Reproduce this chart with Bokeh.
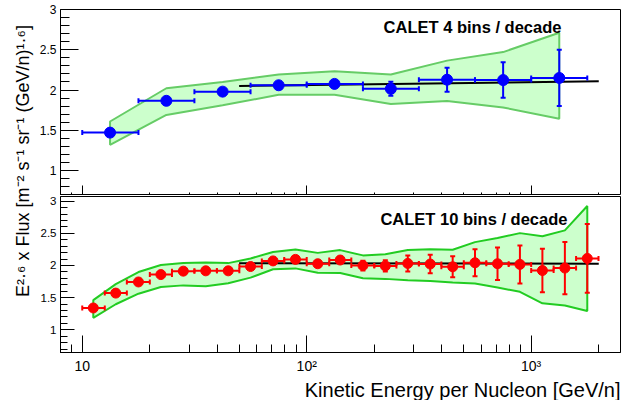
import math
from bokeh.plotting import figure
from bokeh.layouts import column, row
from bokeh.models import (ColumnDataSource, Whisker, TeeHead, Label, FixedTicker, Range1d, Title)
from bokeh.embed import file_html
from bokeh.resources import INLINE

FONT = "Liberation Sans"

# ---------------- data ----------------
x_limits = [8, 2500]
top_limits = [0.69, 3.0]
bot_limits = [0.648, 3.072]

# 4 bins / decade
top_energy = [13.3, 23.7, 42.2, 75.0, 133, 237, 422, 750, 1334]
top_lo = [10, 17.8, 31.6, 56.2, 100, 178, 316, 562, 1000]
top_hi = [17.8, 31.6, 56.2, 100, 178, 316, 562, 1000, 1778]
top_flux = [1.471, 1.866, 1.980, 2.059, 2.076, 2.015, 2.128, 2.124, 2.150]
top_err = [0.015, 0.015, 0.02, 0.025, 0.035, 0.087, 0.15, 0.22, 0.35]
top_band_hi = [1.609, 2.022, 2.100, 2.193, 2.234, 2.193, 2.365, 2.471, 2.712]
top_band_lo = [1.319, 1.691, 1.810, 1.940, 1.940, 1.826, 1.863, 1.784, 1.642]

# 10 bins / decade
bot_energy = [11.2, 14.1, 17.8, 22.4, 28.2, 35.5, 44.7, 56.2, 70.8, 89.1, 112, 141,
              178, 224, 282, 355, 447, 562, 708, 891, 1122, 1413, 1778]
bot_edges = [10, 12.6, 15.8, 20, 25.1, 31.6, 39.8, 50.1, 63.1, 79.4, 100, 126, 158,
             200, 251, 316, 398, 501, 631, 794, 1000, 1259, 1585, 1995]
bot_flux = [1.340, 1.571, 1.744, 1.859, 1.912, 1.917, 1.917, 1.984, 2.071, 2.095, 2.027,
            2.085, 1.999, 1.994, 2.032, 2.023, 1.980, 2.042, 2.027, 2.017, 1.922, 1.960, 2.110]
bot_err = [0.02, 0.02, 0.02, 0.02, 0.02, 0.02, 0.02, 0.025, 0.03, 0.03, 0.035, 0.045,
           0.075, 0.087, 0.125, 0.145, 0.163, 0.21, 0.252, 0.295, 0.339, 0.406, 0.533]
bot_band_hi = [1.461, 1.710, 1.898, 2.008, 2.037, 2.046, 2.037, 2.109, 2.210, 2.250, 2.196,
               2.239, 2.157, 2.176, 2.239, 2.253, 2.244, 2.363, 2.426, 2.503, 2.455, 2.546, 2.925]
bot_band_lo = [1.187, 1.398, 1.562, 1.667, 1.691, 1.677, 1.725, 1.811, 1.941, 1.955, 1.888,
               1.883, 1.801, 1.792, 1.772, 1.758, 1.735, 1.720, 1.657, 1.591, 1.412, 1.379, 1.292]

# fitted lines (values read at the ends)
fit_energy = [50, 2000]
top_fit = [2.050, 2.108]
bot_fit = [2.036, 2.028]

x_major = [10, 100, 1000]
x_labels = {10: "10", 100: "10²", 1000: "10³"}
y_major = [1, 1.5, 2, 2.5, 3]
y_labels = {1: "1", 1.5: "1.5", 2: "2", 2.5: "2.5", 3: "3"}

titles = ["CALET 4 bins / decade", "CALET 10 bins / decade"]
ylab = "E²·⁶ x Flux  [m⁻² s⁻¹ sr⁻¹ (GeV/n)¹·⁶]"
xlab = "Kinetic Energy per Nucleon [GeV/n]"

# ---------------- helpers ----------------
x_minor = [m * 10 ** k for k in range(0, 4) for m in range(2, 10)
           if x_limits[0] <= m * 10 ** k <= x_limits[1] and m * 10 ** k not in x_major]
y_minor = [round(0.1 * i, 1) for i in range(6, 32) if round(0.1 * i, 1) not in y_major]

LAB_W = 36
W = 621 - LAB_W
H = 400


def make_panel(height, ylim, b_top, b_bot, ymaj, ymin, xmaj, xmin, ylab_size, show_x):
    p = figure(width=W, height=height, x_axis_type="log",
               x_range=Range1d(*x_limits), y_range=Range1d(*ylim),
               output_backend="svg", toolbar_location=None,
               min_border_left=57 - LAB_W, min_border_right=1,
               min_border_top=b_top, min_border_bottom=b_bot)
    p.grid.visible = False
    p.background_fill_color = "white"
    p.border_fill_color = "white"
    p.outline_line_color = "black"
    p.outline_line_width = 1

    xa = p.xaxis[0]
    xa.ticker = FixedTicker(ticks=x_major, minor_ticks=x_minor)
    xa.major_tick_in = xmaj
    xa.major_tick_out = 0
    xa.minor_tick_in = xmin
    xa.minor_tick_out = 0
    xa.axis_line_color = "black"
    xa.major_tick_line_color = "black"
    xa.minor_tick_line_color = "black"
    if show_x:
        xa.major_label_overrides = x_labels
        xa.major_label_text_font = FONT
        xa.major_label_text_font_size = "14px"
        xa.major_label_text_color = "black"
        xa.major_label_standoff = 5
    else:
        xa.major_label_overrides = {t: "" for t in x_major}
        xa.major_label_text_font_size = "0px"
        xa.major_label_standoff = 0

    ya = p.yaxis[0]
    ya.ticker = FixedTicker(ticks=y_major, minor_ticks=y_minor)
    ya.major_label_overrides = y_labels
    ya.major_tick_in = ymaj
    ya.major_tick_out = 0
    ya.minor_tick_in = ymin
    ya.minor_tick_out = 0
    ya.axis_line_color = "black"
    ya.major_tick_line_color = "black"
    ya.minor_tick_line_color = "black"
    ya.major_label_text_font = FONT
    ya.major_label_text_font_size = ylab_size
    ya.major_label_text_color = "black"
    ya.major_label_standoff = 4
    return p


def draw(p, energy, lo, hi, flux, err, band_hi, band_lo, fit, color, band_line, size):
    p.patch(x=list(energy) + list(energy[::-1]), y=list(band_hi) + list(band_lo[::-1]),
            fill_color="#ccffcc", line_color=band_line, line_width=2, level="image")
    p.line(fit_energy, fit, line_color="black", line_width=2, level="image")
    src = ColumnDataSource(dict(
        e=energy, y=flux, lo=lo, hi=hi,
        ylo=[f - d for f, d in zip(flux, err)],
        yhi=[f + d for f, d in zip(flux, err)],
    ))
    for dim, base, lower, upper in (("height", "e", "ylo", "yhi"), ("width", "y", "lo", "hi")):
        w = Whisker(source=src, base=base, lower=lower, upper=upper, dimension=dim,
                    line_color=color, line_width=2, level="underlay",
                    upper_head=TeeHead(size=5, line_color=color, line_width=2),
                    lower_head=TeeHead(size=5, line_color=color, line_width=2))
        p.add_layout(w)
    p.scatter(x="e", y="y", source=src, size=size, fill_color=color, line_color=color)


# ---------------- y-axis title strip ----------------
lab = figure(width=LAB_W, height=H, x_range=Range1d(0, 1), y_range=Range1d(0, 1),
             output_backend="svg", toolbar_location=None,
             x_axis_location=None, y_axis_location=None, min_border=0)
lab.grid.visible = False
lab.outline_line_color = None
lab.background_fill_color = "white"
lab.border_fill_color = "white"
lab.add_layout(Label(x=22, y=H - 158, x_units="screen", y_units="screen", text=ylab,
                     angle=math.pi / 2, text_font=FONT, text_font_size="18px",
                     text_color="black", text_align="center", text_baseline="middle"))

# ---------------- top panel ----------------
top = make_panel(195, top_limits, 9, 0, 18, 9, 10, 3, "12px", False)
draw(top, top_energy, top_lo, top_hi, top_flux, top_err, top_band_hi, top_band_lo,
     top_fit, "#0000ff", "#66cc66", 11)
top.add_layout(Label(x=220, y=2.777, text=titles[0], text_font=FONT, text_font_style="bold",
                     text_font_size="16.5px", text_color="black", text_baseline="alphabetic"))

# ---------------- bottom panel ----------------
bot = make_panel(205, bot_limits, 1, 38, 14, 7, 17, 8, "11.5px", True)
draw(bot, bot_energy, bot_edges[:-1], bot_edges[1:], bot_flux, bot_err, bot_band_hi,
     bot_band_lo, bot_fit, "#ff0000", "#22cc22", 10)
bot.add_layout(Label(x=213, y=2.723, text=titles[1], text_font=FONT, text_font_style="bold",
                     text_font_size="16.5px", text_color="black", text_baseline="alphabetic"))
bot.add_layout(Title(text=xlab, align="right", offset=0, standoff=0,
                     text_font=FONT, text_font_size="20px", text_font_style="normal",
                     text_color="black"), "below")

layout = row(lab, column(top, bot, spacing=0), spacing=0)
open("out.html", "w").write(file_html(layout, INLINE))
